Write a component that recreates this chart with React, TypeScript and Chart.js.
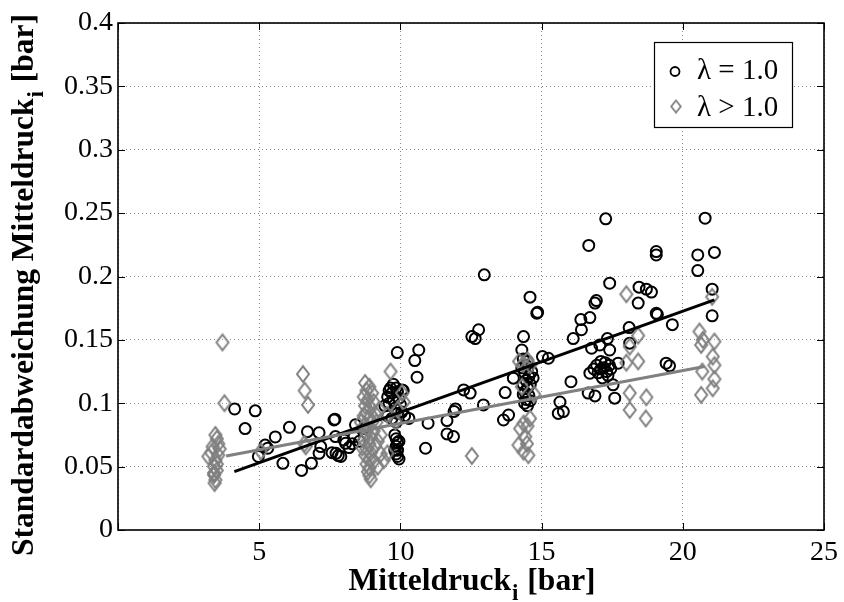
import { useEffect, useRef } from "react";
import { Chart, registerables } from "chart.js";

Chart.register(...registerables);

// λ = 1.0 (circles): [Mitteldruck_i, Standardabweichung]
const circlePoints: [number, number][] = [
  [4.13, 0.0955], [4.86, 0.094], [4.5, 0.08], [4.97, 0.058], [5.21, 0.067], [5.3, 0.0645],
  [5.57, 0.0734], [5.84, 0.0526], [6.07, 0.081], [6.5, 0.047], [6.71, 0.0776], [6.85, 0.0526],
  [7.12, 0.0768], [7.18, 0.0658], [7.12, 0.0605], [7.58, 0.061], [7.8, 0.0587], [7.68, 0.0874],
  [7.7, 0.0737], [8.06, 0.0684], [8.0, 0.071], [8.18, 0.065], [7.72, 0.0605], [7.89, 0.058],
  [8.36, 0.0737], [8.41, 0.083], [7.65, 0.0868], [8.55, 0.07], [8.7, 0.08], [8.3, 0.068],
  [9.45, 0.098], [9.55, 0.105], [9.6, 0.11], [9.65, 0.112], [9.7, 0.108], [9.75, 0.102],
  [9.8, 0.096], [9.85, 0.112], [9.9, 0.109], [9.95, 0.104], [10.0, 0.099], [10.05, 0.093],
  [9.55, 0.09], [9.7, 0.088], [9.85, 0.085], [10.1, 0.11], [9.6, 0.1], [9.9, 0.092],
  [10.15, 0.09], [9.75, 0.115], [10.06, 0.1105],
  [9.8, 0.075], [9.85, 0.072], [9.9, 0.069], [9.85, 0.066], [9.9, 0.063], [9.85, 0.06],
  [9.9, 0.058], [9.95, 0.056], [9.8, 0.063], [9.95, 0.07],
  [9.89, 0.14], [10.65, 0.142], [10.51, 0.1337], [10.59, 0.1205], [10.89, 0.0645], [10.98, 0.0842],
  [10.3, 0.088],
  [11.65, 0.0863], [11.65, 0.0758], [11.88, 0.0737], [11.95, 0.0955], [11.9, 0.0935], [12.24, 0.1105],
  [12.47, 0.108], [12.53, 0.1526], [12.65, 0.151], [12.77, 0.158], [12.94, 0.0987], [12.97, 0.2013],
  [13.65, 0.0868], [13.83, 0.0907], [13.71, 0.1084], [14.0, 0.1198], [14.36, 0.1526], [14.3, 0.142],
  [14.59, 0.1837], [14.83, 0.171], [14.86, 0.1717], [15.03, 0.1368], [15.24, 0.1355],
  [14.35, 0.135], [14.45, 0.13], [14.5, 0.127], [14.4, 0.124], [14.55, 0.121], [14.45, 0.118],
  [14.35, 0.115], [14.5, 0.112], [14.4, 0.109], [14.55, 0.106], [14.45, 0.103], [14.4, 0.1],
  [14.5, 0.098], [14.6, 0.115], [14.65, 0.125], [14.7, 0.12], [14.3, 0.128], [14.6, 0.102],
  [14.35, 0.107], [14.5, 0.133],
  [15.65, 0.101], [15.59, 0.092], [15.77, 0.0934], [16.04, 0.117], [16.12, 0.151], [16.41, 0.158],
  [16.39, 0.166], [16.71, 0.1676], [16.89, 0.179], [16.94, 0.181], [16.67, 0.2245],
  [17.27, 0.2455], [17.41, 0.1947], [17.33, 0.151], [16.77, 0.1434], [17.06, 0.146], [17.41, 0.142],
  [16.71, 0.1237], [17.53, 0.1145], [16.65, 0.108], [16.89, 0.1058], [17.59, 0.104], [17.71, 0.1316],
  [16.85, 0.127], [16.95, 0.13], [17.1, 0.133], [17.2, 0.128], [17.3, 0.125], [17.4, 0.13],
  [17.45, 0.127], [17.35, 0.122], [17.15, 0.12], [17.0, 0.124], [17.25, 0.132], [17.1, 0.127],
  [18.45, 0.1916], [18.71, 0.19], [18.89, 0.1877], [18.42, 0.179], [18.1, 0.1597], [18.12, 0.1474],
  [19.06, 0.2197], [19.06, 0.217], [19.06, 0.171], [19.1, 0.17], [19.63, 0.162], [19.41, 0.1316],
  [19.53, 0.1295], [20.53, 0.217], [20.79, 0.246], [21.12, 0.219], [20.53, 0.2047], [21.04, 0.19],
  [21.04, 0.169],
];

// λ > 1.0 (diamonds)
const diamondPoints: [number, number][] = [
  [3.45, 0.075], [3.5, 0.072], [3.35, 0.0658], [3.6, 0.064], [3.2, 0.058], [3.55, 0.059],
  [3.45, 0.055], [3.4, 0.05], [3.5, 0.047], [3.4, 0.0434], [3.45, 0.0395], [3.42, 0.037],
  [3.4, 0.045], [3.5, 0.052], [3.3, 0.061], [3.55, 0.068],
  [3.7, 0.148], [3.77, 0.1], [5.06, 0.062],
  [6.55, 0.123], [6.61, 0.11], [6.73, 0.0987], [6.6, 0.068], [6.65, 0.066],
  [8.75, 0.116], [8.9, 0.113], [8.8, 0.11], [9.0, 0.108], [8.7, 0.105], [8.85, 0.103],
  [9.05, 0.101], [8.75, 0.098], [8.95, 0.096], [8.8, 0.093], [9.1, 0.092], [8.7, 0.09],
  [8.9, 0.088], [9.0, 0.085], [8.75, 0.083], [8.85, 0.08], [9.05, 0.078], [8.8, 0.076],
  [8.95, 0.073], [8.7, 0.071], [8.9, 0.068], [9.1, 0.066], [8.8, 0.064], [8.95, 0.061],
  [8.75, 0.059], [8.9, 0.056], [9.05, 0.054], [8.8, 0.052], [8.9, 0.049], [8.85, 0.046],
  [8.9, 0.043], [8.95, 0.04], [9.2, 0.07], [9.3, 0.06], [9.15, 0.085], [9.25, 0.095],
  [9.3, 0.075], [9.2, 0.05], [8.6, 0.085], [8.65, 0.065],
  [9.65, 0.125], [10.06, 0.108], [10.12, 0.101], [9.83, 0.0855], [9.53, 0.091], [9.41, 0.055],
  [9.54, 0.0605], [9.9, 0.095],
  [12.53, 0.0584],
  [14.59, 0.088], [14.36, 0.084], [14.24, 0.08], [14.5, 0.082], [14.42, 0.0737], [14.18, 0.067],
  [14.48, 0.068], [14.36, 0.0618], [14.53, 0.059], [14.74, 0.107], [14.2, 0.133], [14.35, 0.131],
  [14.5, 0.134], [14.6, 0.13], [14.3, 0.113],
  [18.0, 0.186], [18.42, 0.1534], [18.12, 0.1447], [18.0, 0.132], [18.42, 0.133], [18.12, 0.108],
  [18.71, 0.1047], [18.12, 0.0947], [18.69, 0.088],
  [21.04, 0.184], [20.59, 0.1566], [20.65, 0.146], [20.71, 0.15], [21.12, 0.1487], [21.06, 0.1368],
  [21.12, 0.13], [20.69, 0.125], [21.12, 0.119], [21.06, 0.1118], [20.65, 0.1066],
];

// Regression lines
const fitCircleX = [4.12, 21.12];
const fitCircleY = [0.046, 0.1816];
const fitDiamondX = [3.83, 20.77];
const fitDiamondY = [0.0584, 0.129];

const xTicks = [0, 5, 10, 15, 20, 25];
const yTicks = [0, 0.05, 0.1, 0.15, 0.2, 0.25, 0.3, 0.35, 0.4];
const legendLabels = ["λ = 1.0", "λ > 1.0"];
const xTitleParts = ["Mitteldruck", "i", " [bar]"];
const yTitleParts = ["Standardabweichung Mitteldruck", "i", " [bar]"];

const SERIF = "'Liberation Serif', 'Times New Roman', serif";
const GRAY = "#808080";

function makeDiamond(hw: number, hh: number, lw: number, color: string) {
  const c = document.createElement("canvas");
  const w = Math.ceil(2 * hw + lw + 2);
  const h = Math.ceil(2 * hh + lw + 2);
  c.width = w;
  c.height = h;
  const g = c.getContext("2d")!;
  g.strokeStyle = color;
  g.lineWidth = lw;
  g.beginPath();
  g.moveTo(w / 2, h / 2 - hh);
  g.lineTo(w / 2 + hw, h / 2);
  g.lineTo(w / 2, h / 2 + hh);
  g.lineTo(w / 2 - hw, h / 2);
  g.closePath();
  g.stroke();
  return c;
}

function drawSubText(
  ctx: CanvasRenderingContext2D,
  parts: string[],
  cx: number,
  baseY: number,
  size: number
) {
  const main = `bold ${size}px ${SERIF}`;
  const sub = `bold ${Math.round(size * 0.72)}px ${SERIF}`;
  ctx.font = main;
  const w0 = ctx.measureText(parts[0]).width;
  const w2 = ctx.measureText(parts[2]).width;
  ctx.font = sub;
  const w1 = ctx.measureText(parts[1]).width;
  const total = w0 + w1 + w2;
  let x = cx - total / 2;
  ctx.textAlign = "left";
  ctx.textBaseline = "alphabetic";
  ctx.font = main;
  ctx.fillText(parts[0], x, baseY);
  x += w0;
  ctx.font = sub;
  ctx.fillText(parts[1], x + 1, baseY + size * 0.32);
  x += w1 + 2;
  ctx.font = main;
  ctx.fillText(parts[2], x, baseY);
}

export default function App() {
  const ref = useRef<HTMLCanvasElement | null>(null);

  useEffect(() => {
    if (!ref.current) return;
    const diamondImg = makeDiamond(6, 7.8, 2, GRAY);
    const legendDiamond = makeDiamond(4.8, 6, 1.8, GRAY);

    const overlay = {
      id: "overlay",
      afterDatasetsDraw(chart: any) {
        const { ctx, chartArea, scales } = chart;
        const { left, right, top, bottom } = chartArea;
        const xs = scales.x;
        const ys = scales.y;
        ctx.save();
        // frame
        ctx.strokeStyle = "#000";
        ctx.lineWidth = 1.6;
        ctx.strokeRect(left, top, right - left, bottom - top);
        // inward ticks
        const tl = 7;
        ctx.beginPath();
        for (const v of xTicks) {
          const px = Math.round(xs.getPixelForValue(v)) + 0.5;
          ctx.moveTo(px, bottom);
          ctx.lineTo(px, bottom - tl);
          ctx.moveTo(px, top);
          ctx.lineTo(px, top + tl);
        }
        for (const v of yTicks) {
          const py = Math.round(ys.getPixelForValue(v)) + 0.5;
          ctx.moveTo(left, py);
          ctx.lineTo(left + tl, py);
          ctx.moveTo(right, py);
          ctx.lineTo(right - tl, py);
        }
        ctx.lineWidth = 1;
        ctx.stroke();

        // legend
        const lx = 654, ly = 42, lw = 138, lh = 85;
        ctx.fillStyle = "#fff";
        ctx.fillRect(lx, ly, lw, lh);
        ctx.strokeStyle = "#000";
        ctx.lineWidth = 1.2;
        ctx.strokeRect(lx + 0.5, ly + 0.5, lw, lh);
        // circle marker
        ctx.beginPath();
        ctx.arc(675, 71.5, 4.5, 0, Math.PI * 2);
        ctx.lineWidth = 1.8;
        ctx.strokeStyle = "#000";
        ctx.stroke();
        ctx.drawImage(
          legendDiamond,
          676 - legendDiamond.width / 2,
          106.5 - legendDiamond.height / 2
        );
        ctx.fillStyle = "#000";
        ctx.font = `29px ${SERIF}`;
        ctx.textAlign = "left";
        ctx.textBaseline = "alphabetic";
        ctx.fillText(legendLabels[0], 697, 79);
        ctx.fillText(legendLabels[1], 697, 116);

        // axis titles
        ctx.fillStyle = "#000";
        drawSubText(ctx, xTitleParts, (left + right) / 2, 590, 31.5);
        ctx.save();
        ctx.translate(33, 286);
        ctx.rotate(-Math.PI / 2);
        drawSubText(ctx, yTitleParts, 0, 0, 31.5);
        ctx.restore();
        ctx.restore();
      },
    };

    const chart = new Chart(ref.current, {
      type: "scatter",
      data: {
        datasets: [
          {
            label: "fit λ = 1.0",
            type: "line",
            data: fitCircleX.map((x, i) => ({ x, y: fitCircleY[i] })),
            borderColor: "#000",
            borderWidth: 3,
            pointRadius: 0,
            fill: false,
            order: 1,
          } as any,
          {
            label: "fit λ > 1.0",
            type: "line",
            data: fitDiamondX.map((x, i) => ({ x, y: fitDiamondY[i] })),
            borderColor: GRAY,
            borderWidth: 3,
            pointRadius: 0,
            fill: false,
            order: 0,
          } as any,
          {
            label: "λ > 1.0",
            data: diamondPoints.map(([x, y]) => ({ x, y })),
            pointStyle: diamondImg,
            pointRadius: 7,
            order: 2,
          } as any,
          {
            label: "λ = 1.0",
            data: circlePoints.map(([x, y]) => ({ x, y })),
            pointStyle: "circle",
            pointRadius: 5.5,
            pointBorderWidth: 2,
            pointBorderColor: "#000",
            pointBackgroundColor: "rgba(0,0,0,0)",
            borderColor: "#000",
            backgroundColor: "rgba(0,0,0,0)",
            order: 3,
          } as any,
        ],
      },
      options: {
        animation: false,
        responsive: false,
        devicePixelRatio: 1,
        layout: { padding: { left: 0, right: 17, top: 23, bottom: 0 } },
        plugins: {
          legend: { display: false },
          tooltip: { enabled: false },
        },
        scales: {
          x: {
            type: "linear",
            min: 0,
            max: 25,
            afterBuildTicks: (s: any) => {
              s.ticks = xTicks.map((v) => ({ value: v }));
            },
            ticks: {
              callback: (v: any) => (Number(v) === 0 ? "" : String(v)),
              font: { family: SERIF, size: 28 },
              color: "#000",
              padding: 6,
              maxRotation: 0,
              autoSkip: false,
            },
            grid: { color: "#8a8a8a", lineWidth: 1, drawTicks: false },
            border: { display: false, dash: [1, 3] },
            afterFit: (s: any) => {
              s.height = 72;
            },
          },
          y: {
            type: "linear",
            min: 0,
            max: 0.4,
            afterBuildTicks: (s: any) => {
              s.ticks = yTicks.map((v) => ({ value: v }));
            },
            ticks: {
              callback: (v: any) => String(Number(Number(v).toFixed(2))),
              font: { family: SERIF, size: 28 },
              color: "#000",
              padding: 5,
              autoSkip: false,
            },
            grid: { color: "#8a8a8a", lineWidth: 1, drawTicks: false },
            border: { display: false, dash: [1, 3] },
            afterFit: (s: any) => {
              s.width = 118;
            },
          },
        },
      } as any,
      plugins: [overlay],
    });
    return () => chart.destroy();
  }, []);

  return (
    <canvas
      ref={ref}
      width={844}
      height={602}
      style={{ position: "fixed", left: 0, top: 0, width: 844, height: 602, background: "#fff" }}
    />
  );
}
